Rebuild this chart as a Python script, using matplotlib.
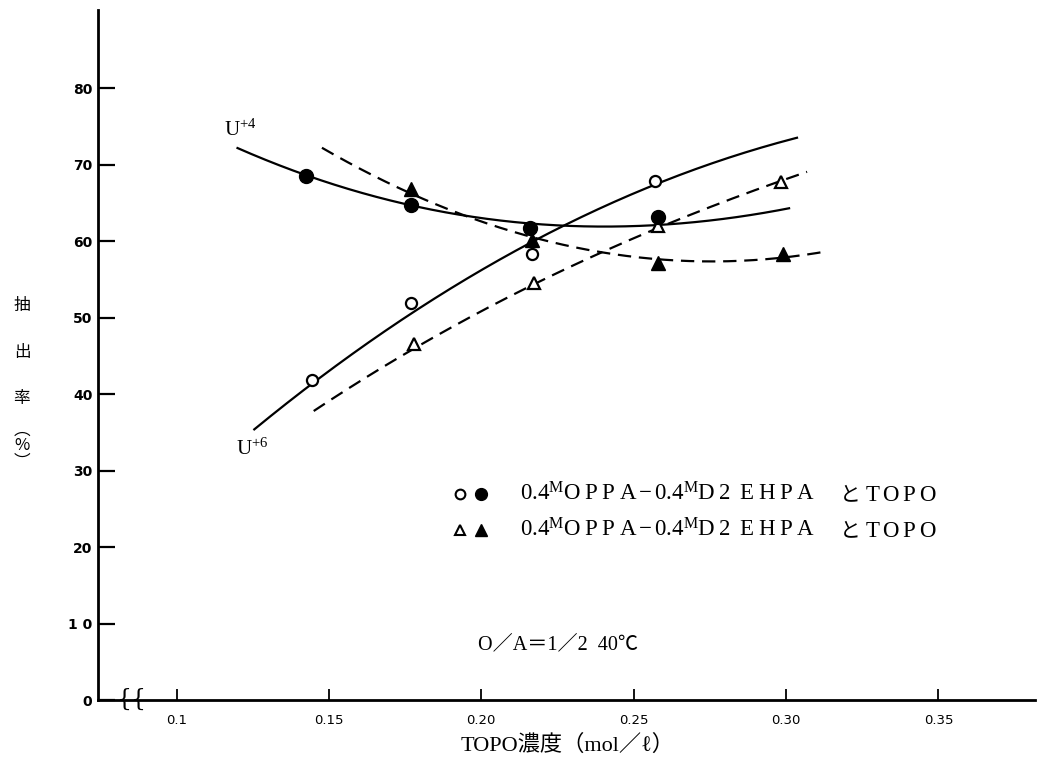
import numpy as np
import matplotlib
matplotlib.use("Agg")
import matplotlib.pyplot as plt

plt.rcParams['mathtext.fontset'] = 'custom'
plt.rcParams['mathtext.rm'] = 'Liberation Serif'
plt.rcParams['mathtext.it'] = 'Liberation Serif:italic'

SERIF = ['Liberation Serif', 'Noto Sans CJK JP', 'DejaVu Sans']
CJK = ['Noto Sans CJK JP', 'DejaVu Sans']

# measured points (TOPO mol/l, extraction %)
x_u4_circ = [0.1425, 0.177, 0.216, 0.258]
y_u4_circ = [68.5, 64.7, 61.8, 63.2]
x_u6_circ = [0.1445, 0.177, 0.2167, 0.257]
y_u6_circ = [41.8, 51.9, 58.4, 67.9]
x_u4_tri = [0.177, 0.2165, 0.258, 0.299]
y_u4_tri = [66.9, 60.2, 57.2, 58.3]
x_u6_tri = [0.178, 0.2173, 0.258, 0.2985]
y_u6_tri = [46.5, 54.6, 62.0, 67.8]

# fitted curves
cx_u4_solid = [0.120, 0.1425, 0.177, 0.216, 0.258, 0.301]
cy_u4_solid = [72.2, 68.6, 64.8, 62.2, 62.2, 64.3]
cx_u6_solid = [0.1255, 0.1445, 0.177, 0.2167, 0.257, 0.3036]
cy_u6_solid = [35.4, 41.3, 50.8, 59.6, 67.6, 73.5]
cx_u4_dash = [0.1477, 0.177, 0.2167, 0.258, 0.299, 0.3134]
cy_u4_dash = [72.2, 66.3, 60.5, 57.6, 58.0, 58.6]
cx_u6_dash = [0.145, 0.178, 0.2173, 0.258, 0.2984, 0.3069]
cy_u6_dash = [37.8, 46.0, 54.3, 61.9, 67.6, 69.3]

xticks = [0.1, 0.15, 0.20, 0.25, 0.30, 0.35]
xticklabels = ['0.1', '0.15', '0.20', '0.25', '0.30', '0.35']
yticks = [0, 10, 20, 30, 40, 50, 60, 70, 80]
yticklabels = ['0', '1 0', '20', '30', '40', '50', '60', '70', '80']


def smooth(xs, ys, deg=3):
    p = np.polyfit(xs, ys, deg)
    xx = np.linspace(xs[0], xs[-1], 200)
    return xx, np.polyval(p, xx)


fig = plt.figure(figsize=(10.5, 7.74), dpi=100)
ax = fig.add_axes([0.0933, 0.0956, 0.8924, 0.891])
ax.set_xlim(0.0742, 0.3817)
ax.set_ylim(0, 90.2)

for s in ['top', 'right']:
    ax.spines[s].set_visible(False)
for s in ['left', 'bottom']:
    ax.spines[s].set_linewidth(2.0)

dash = (0, (6, 3.5))
xx, yy = smooth(cx_u4_solid, cy_u4_solid)
ax.plot(xx, yy, color='black', lw=1.6, zorder=2)
xx, yy = smooth(cx_u6_solid, cy_u6_solid)
ax.plot(xx, yy, color='black', lw=1.6, zorder=2)
xx, yy = smooth(cx_u4_dash, cy_u4_dash)
ax.plot(xx, yy, color='black', lw=1.6, ls=dash, zorder=2)
xx, yy = smooth(cx_u6_dash, cy_u6_dash)
ax.plot(xx, yy, color='black', lw=1.6, ls=dash, zorder=2)

ax.plot(x_u6_circ, y_u6_circ, 'o', ms=8, mfc='white', mec='black', mew=1.6, ls='none', zorder=3)
ax.plot(x_u4_circ, y_u4_circ, 'o', ms=10, mfc='black', mec='black', ls='none', zorder=4)
ax.plot(x_u6_tri, y_u6_tri, '^', ms=9, mfc='white', mec='black', mew=1.6, ls='none', zorder=3)
ax.plot(x_u4_tri, y_u4_tri, '^', ms=10, mfc='black', mec='black', ls='none', zorder=4)

ax.set_xticks(xticks)
ax.set_xticklabels(xticklabels, fontsize=9.5)
ax.set_yticks(yticks)
ax.set_yticklabels(yticklabels, fontsize=10, fontweight='bold')
ax.tick_params(axis='x', direction='in', length=8, width=1.3, pad=10)
ax.tick_params(axis='y', direction='in', length=12, width=1.6, pad=4)

# axis break mark
ax.text(0.0852, 0.1, '{{', fontsize=17, ha='center', va='center',
        family='DejaVu Serif', zorder=5)

# curve labels
ax.text(0.1155, 73.3, r'$\mathrm{U}^{+4}$', fontsize=15, ha='left', va='bottom')
ax.text(0.1195, 31.5, r'$\mathrm{U}^{+6}$', fontsize=15, ha='left', va='bottom')

# legend
def fx(px):
    return (px - 98) / 937.0


def fy(py):
    return (700 - py) / 690.0


leg_label = r'$\mathrm{0.4^{M}O\;P\;P\;A\,{-}\,0.4^{M}D\;2\;\;E\;H\;P\;A}$'
rows = [(494, 'o', 'o'), (530, '^', '^')]
for py, m1, m2 in rows:
    ax.plot([fx(460)], [fy(py)], m1, ms=7, mfc='white', mec='black', mew=1.5,
            transform=ax.transAxes, clip_on=False)
    ax.plot([fx(481)], [fy(py)], m2, ms=8.5, mfc='black', mec='black',
            transform=ax.transAxes, clip_on=False)
    ax.text(fx(520), fy(py), leg_label, fontsize=16.5,
            ha='left', va='center', transform=ax.transAxes)
    ax.text(fx(840), fy(py), 'と', fontsize=15, family=CJK,
            ha='left', va='center', transform=ax.transAxes)
    ax.text(fx(865), fy(py), r'$\mathrm{T\:O\:P\:O}$', fontsize=16.5,
            ha='left', va='center', transform=ax.transAxes)

ax.text(fx(478), fy(645), 'O／A＝1／2  40℃', fontsize=14.5, family=SERIF,
        ha='left', va='center', transform=ax.transAxes)

# axis titles
fig.text(0.541, 1 - 745 / 774, 'TOPO濃度（mol／ℓ）', fontsize=16, family=SERIF,
         ha='center', va='center')
for ch, py in [('抽', 305), ('出', 353), ('率', 398), ('︵', 430), ('%', 446), ('︶', 462)]:
    fig.text(22 / 1050, 1 - py / 774, ch, fontsize=12, family=CJK,
             ha='center', va='center')

fig.savefig('out.png', dpi=100)
